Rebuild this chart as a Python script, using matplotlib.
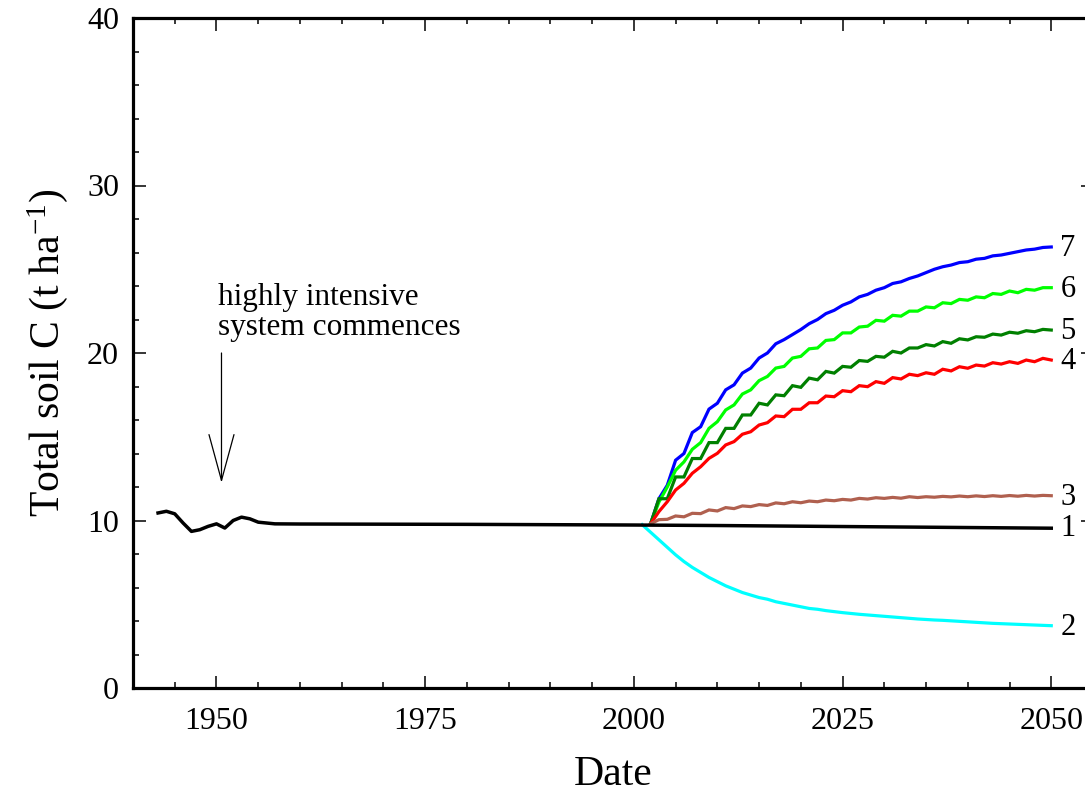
import matplotlib
matplotlib.use('Agg')
import matplotlib.pyplot as plt
from matplotlib.ticker import MultipleLocator

plt.rcParams['font.family'] = 'Liberation Serif'
plt.rcParams['mathtext.fontset'] = 'custom'
plt.rcParams['mathtext.rm'] = 'Liberation Serif'
plt.rcParams['mathtext.it'] = 'Liberation Serif:italic'

# baseline run (1), 1943 onwards
years_base = [1943, 1944, 1945, 1946, 1947, 1948, 1949, 1950, 1951, 1952, 1953, 1954, 1955, 1956, 1957,
              1960, 1970, 1980, 1990, 2000, 2010, 2020, 2030, 2040, 2050]
soil_c_1 = [10.45, 10.55, 10.4, 9.85, 9.35, 9.45, 9.65, 9.8, 9.55, 10.0, 10.2, 10.1, 9.9, 9.85, 9.8,
            9.79, 9.78, 9.77, 9.75, 9.73, 9.7, 9.66, 9.62, 9.58, 9.54]

# run 2 starts 2001
years_2 = list(range(2001, 2051))
soil_c_2 = [9.75, 9.3, 8.85, 8.4, 7.95, 7.55, 7.2, 6.9, 6.6, 6.35,
            6.1, 5.9, 5.7, 5.55, 5.4, 5.3, 5.15, 5.05, 4.95, 4.85,
            4.75, 4.7, 4.62, 4.56, 4.5, 4.45, 4.4, 4.36, 4.32, 4.28,
            4.24, 4.2, 4.16, 4.12, 4.09, 4.06, 4.04, 4.01, 3.98, 3.95,
            3.92, 3.89, 3.86, 3.84, 3.82, 3.8, 3.78, 3.76, 3.74, 3.72]

# runs 3-7 start 2002
years_new = list(range(2002, 2051))
soil_c_3 = [9.8, 10.05, 10.07, 10.27, 10.22, 10.43, 10.41, 10.63, 10.57, 10.77,
            10.71, 10.87, 10.83, 10.95, 10.9, 11.05, 11.0, 11.12, 11.06, 11.16,
            11.12, 11.22, 11.18, 11.26, 11.22, 11.32, 11.28, 11.36, 11.32, 11.38,
            11.33, 11.42, 11.37, 11.42, 11.39, 11.44, 11.41, 11.46, 11.42, 11.47,
            11.43, 11.48, 11.44, 11.49, 11.45, 11.5, 11.46, 11.5, 11.48]
soil_c_4 = [9.8, 10.53, 11.12, 11.82, 12.22, 12.82, 13.21, 13.71, 14.01, 14.51,
            14.71, 15.15, 15.3, 15.7, 15.84, 16.24, 16.2, 16.64, 16.64, 17.03,
            17.03, 17.43, 17.39, 17.75, 17.69, 18.05, 17.99, 18.29, 18.19, 18.53,
            18.45, 18.73, 18.65, 18.82, 18.73, 19.03, 18.93, 19.18, 19.09, 19.28,
            19.22, 19.42, 19.34, 19.48, 19.38, 19.58, 19.48, 19.68, 19.58]
soil_c_5 = [9.8, 11.3, 11.3, 12.6, 12.6, 13.7, 13.7, 14.65, 14.65, 15.5,
            15.5, 16.3, 16.3, 17.0, 16.9, 17.5, 17.45, 18.05, 17.95, 18.5,
            18.4, 18.9, 18.8, 19.2, 19.15, 19.55, 19.5, 19.8, 19.75, 20.1,
            20.0, 20.3, 20.3, 20.5, 20.42, 20.68, 20.58, 20.85, 20.78, 20.97,
            20.94, 21.13, 21.07, 21.24, 21.18, 21.33, 21.27, 21.41, 21.37]
soil_c_6 = [9.8, 11.1, 12.0, 13.0, 13.5, 14.25, 14.65, 15.5, 15.9, 16.6,
            16.9, 17.55, 17.8, 18.35, 18.6, 19.1, 19.2, 19.7, 19.8, 20.25,
            20.3, 20.75, 20.8, 21.2, 21.2, 21.55, 21.6, 21.95, 21.9, 22.25,
            22.2, 22.5, 22.5, 22.75, 22.7, 23.0, 22.95, 23.2, 23.15, 23.35,
            23.3, 23.55, 23.5, 23.7, 23.6, 23.8, 23.75, 23.9, 23.9]
soil_c_7 = [9.8, 11.3, 12.1, 13.6, 14.0, 15.25, 15.6, 16.65, 17.0, 17.8,
            18.1, 18.8, 19.1, 19.7, 20.0, 20.55, 20.8, 21.1, 21.4, 21.75,
            22.0, 22.35, 22.55, 22.85, 23.05, 23.35, 23.5, 23.75, 23.9, 24.15,
            24.25, 24.45, 24.6, 24.8, 25.0, 25.15, 25.25, 25.4, 25.45, 25.6,
            25.65, 25.8, 25.85, 25.95, 26.05, 26.15, 26.2, 26.3, 26.33]

fig = plt.figure(figsize=(10.85, 7.96), dpi=100)
ax = fig.add_axes([133 / 1085, 108 / 796, 960 / 1085, 670 / 796])

runs = [
    ('7', years_new, soil_c_7, '#0000ff'),
    ('6', years_new, soil_c_6, '#00ff00'),
    ('5', years_new, soil_c_5, '#008000'),
    ('4', years_new, soil_c_4, '#ff0000'),
    ('3', years_new, soil_c_3, '#b0604f'),
    ('2', years_2, soil_c_2, '#00ffff'),
]
for lab, xs, ys, col in runs:
    ax.plot(xs, ys, color=col, lw=2.3, solid_joinstyle='miter')
    ax.text(xs[-1] + 1.1, ys[-1] - 0.1, lab, fontsize=22, va='center', ha='left')

ax.plot(years_base, soil_c_1, color='black', lw=2.5, zorder=5)
ax.text(years_base[-1] + 1.1, soil_c_1[-1], '1', fontsize=22, va='center', ha='left')

# arrow + note
ax.annotate('', xy=(1950.6, 12.25), xytext=(1950.6, 20.0),
            arrowprops=dict(arrowstyle='->,head_length=3.3,head_width=0.9',
                            color='black', lw=0.9, mutation_scale=10,
                            shrinkA=0, shrinkB=0))
ax.text(1950.2, 22.4, 'highly intensive\nsystem commences', fontsize=22.5,
        ha='left', va='center', linespacing=1.05)

ax.set_xlim(1940, 2055)
ax.set_ylim(0, 40)
ax.xaxis.set_major_locator(MultipleLocator(25))
ax.xaxis.set_minor_locator(MultipleLocator(5))
ax.yaxis.set_major_locator(MultipleLocator(10))
ax.yaxis.set_minor_locator(MultipleLocator(2))
ax.tick_params(which='both', direction='in', top=True, right=True, width=1.1)
ax.tick_params(which='major', length=9, labelsize=23)
ax.tick_params(axis='x', which='major', pad=14)
ax.tick_params(axis='y', which='major', pad=10)
ax.tick_params(which='minor', length=4.5)
for sp in ax.spines.values():
    sp.set_linewidth(2.3)

ax.set_xlabel('Date', fontsize=30, labelpad=14)
ax.set_ylabel('Total soil C (t ha$^{-1}$)', fontsize=30, labelpad=12)

fig.savefig('out.png', dpi=100)
